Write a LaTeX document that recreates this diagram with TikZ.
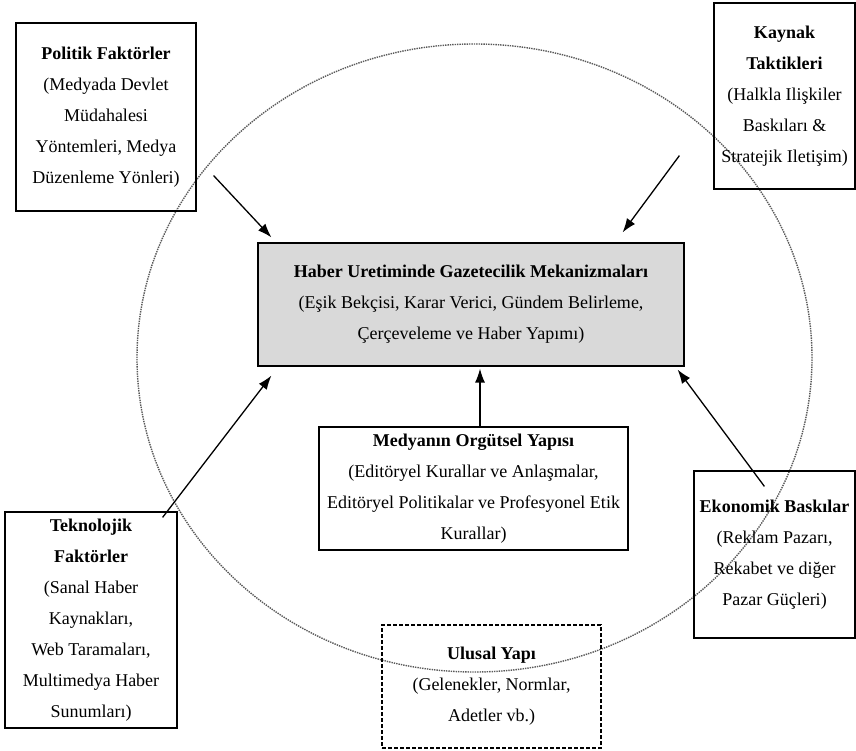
\documentclass[tikz,border=0pt]{standalone}
\usepackage{fontspec}
\setmainfont{Liberation Serif}
\usetikzlibrary{arrows.meta}
\begin{document}
\begin{tikzpicture}[x=1pt,y=-1pt]

    \tikzset{boxstyle/.style={draw,line width=1.2pt,inner sep=0pt,align=center,
        font=\fontsize{18}{31}\selectfont},
      grayboxstyle/.style={boxstyle,fill=black!15},
      dashboxstyle/.style={boxstyle,dash pattern=on 4pt off 2pt}}
    \useasboundingbox (0,0) rectangle (856,751);
    \draw[black!65,line width=1.4pt,densely dotted] (474.5,358) ellipse [x radius=337.5pt, y radius=314pt];

    \node[grayboxstyle,minimum width=426pt,minimum height=123pt] (haber) at (471,304.5)
        {\textbf{Haber Uretiminde Gazetecilik Mekanizmaları}\\(Eşik Bekçisi, Karar Verici, Gündem Belirleme,\\Çerçeveleme ve Haber Yapımı)};
    \node[boxstyle,minimum width=180pt,minimum height=188pt] (pol) at (106,117)
        {\textbf{Politik Faktörler}\\(Medyada Devlet\\Müdahalesi\\Yöntemleri, Medya\\Düzenleme Yönleri)};
    \node[boxstyle,minimum width=141pt,minimum height=186pt] (kay) at (784.5,96)
        {\textbf{Kaynak}\\\textbf{Taktikleri}\\(Halkla Ilişkiler\\Baskıları \&\\Stratejik Iletişim)};
    \node[boxstyle,minimum width=309pt,minimum height=123pt] (org) at (473.5,488.5)
        {\textbf{Medyanın Orgütsel Yapısı}\\(Editöryel Kurallar ve Anlaşmalar,\\Editöryel Politikalar ve Profesyonel Etik\\Kurallar)};
    \node[boxstyle,minimum width=172pt,minimum height=216pt] (tek) at (91,620)
        {\textbf{Teknolojik}\\\textbf{Faktörler}\\(Sanal Haber\\Kaynakları,\\Web Taramaları,\\Multimedya Haber\\Sunumları)};
    \node[boxstyle,minimum width=161pt,minimum height=167pt] (eko) at (774.5,554.5)
        {\textbf{Ekonomik Baskılar}\\(Reklam Pazarı,\\Rekabet ve diğer\\Pazar Güçleri)};
    \node[dashboxstyle,minimum width=219pt,minimum height=123pt] (ulu) at (491.5,686.5)
        {\textbf{Ulusal Yapı}\\(Gelenekler, Normlar,\\Adetler vb.)};

    \coordinate (polout) at ([shift={(17,-36)}]pol.south east);
    \coordinate (polin) at ([shift={(14,-5)}]haber.north west);
    \coordinate (kayout) at ([shift={(-34,-34)}]kay.south west);
    \coordinate (kayin) at ([shift={(-62,-10)}]haber.north east);
    \coordinate (tekout) at ([shift={(-15,6)}]tek.north east);
    \coordinate (tekin) at ([shift={(14,9)}]haber.south west);
    \coordinate (orgout) at ([shift={(6.5,0)}]org.north);
    \coordinate (orgin) at ([shift={(9,2)}]haber.south);
    \coordinate (ekoout) at ([shift={(71,16)}]eko.north west);
    \coordinate (ekoin) at ([shift={(-7,3)}]haber.south east);

    \begin{scope}[every path/.style={-{Latex[length=14pt,width=10pt]},line width=1.3pt}]
        \draw (polout) -- (polin);
        \draw (kayout) -- (kayin);
        \draw (tekout) -- (tekin);
        \draw (orgout) -- (orgin);
        \draw (ekoout) -- (ekoin);
    \end{scope}
\end{tikzpicture}
\end{document}
